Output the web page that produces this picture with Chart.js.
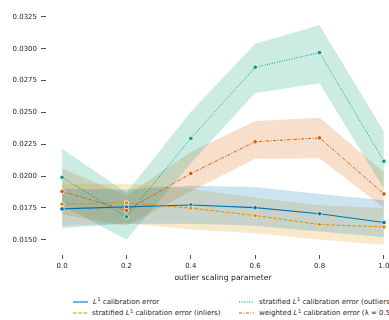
<!DOCTYPE html>
<html>
<head>
<meta charset="utf-8">
<script src="https://cdn.jsdelivr.net/npm/chart.js@4"></script>
<style>
  html, body { margin: 0; padding: 0; background: #fff; overflow: hidden; }
  #wrap { position: relative; width: 389px; height: 320px; overflow: hidden; }
  #c { position: absolute; left: 0; top: 0; }
  .lg { position: absolute; height: 10px; white-space: nowrap; font-family: "DejaVu Sans", sans-serif; font-size: 7px; color: #262626; }
  .lg svg { position: absolute; left: 0; top: 2px; }
  .lg span { position: absolute; top: 0; line-height: 10px; }
  .lg i { font-style: italic; }
  .lg sup { font-size: 5px; vertical-align: 0; position: relative; top: -2.5px; margin-left: 0.5px; }
</style>
</head>
<body>
<div id="wrap">
  <canvas id="c" width="410" height="290"></canvas>
</div>
<script>
// x positions (outlier scaling parameter) and axis ticks
const xValues = [0.0, 0.2, 0.4, 0.6, 0.8, 1.0];
const yTicks = [0.0150, 0.0175, 0.0200, 0.0225, 0.0250, 0.0275, 0.0300, 0.0325];

// L1 calibration error: mean and confidence band
const l1Mean = [0.01742, 0.01758, 0.01773, 0.01752, 0.01704, 0.01635];
const l1Low  = [0.01592, 0.01625, 0.01625, 0.01610, 0.01565, 0.01520];
const l1High = [0.01900, 0.01895, 0.01925, 0.01915, 0.01860, 0.01810];

// stratified L1 calibration error (inliers)
const inlMean = [0.01780, 0.01790, 0.01748, 0.01690, 0.01620, 0.01600];
const inlLow  = [0.01610, 0.01630, 0.01580, 0.01550, 0.01500, 0.01460];
const inlHigh = [0.01935, 0.01940, 0.01900, 0.01830, 0.01770, 0.01750];

// stratified L1 calibration error (outliers)
const outMean = [0.01990, 0.01680, 0.02296, 0.02855, 0.02970, 0.02117];
const outLow  = [0.01770, 0.01500, 0.02100, 0.02653, 0.02730, 0.01900];
const outHigh = [0.02214, 0.01870, 0.02505, 0.03039, 0.03185, 0.02350];

// weighted L1 calibration error (lambda = 0.5)
const wMean = [0.01880, 0.01730, 0.02020, 0.02270, 0.02300, 0.01860];
const wLow  = [0.01700, 0.01610, 0.01880, 0.02137, 0.02140, 0.01750];
const wHigh = [0.02060, 0.01850, 0.02190, 0.02433, 0.02458, 0.02030];

const seriesLabels = [
  'L¹ calibration error',
  'stratified L¹ calibration error (inliers)',
  'stratified L¹ calibration error (outliers)',
  'weighted L¹ calibration error (λ = 0.5)'
];

const series = [
  { label: seriesLabels[0], mean: l1Mean,  low: l1Low,  high: l1High,  rgb: [1, 115, 178],  dash: [],           width: 1.1, order: 4 },
  { label: seriesLabels[1], mean: inlMean, low: inlLow, high: inlHigh, rgb: [222, 143, 5],  dash: [3.7, 1.6],   width: 1.0, order: 3 },
  { label: seriesLabels[2], mean: outMean, low: outLow, high: outHigh, rgb: [2, 158, 115],  dash: [1, 1.5],     width: 1.0, order: 2 },
  { label: seriesLabels[3], mean: wMean,   low: wLow,   high: wHigh,   rgb: [213, 94, 0],   dash: [3, 1.5, 1, 1.5], width: 1.0, order: 1 }
];

const pts = arr => arr.map((v, i) => ({ x: xValues[i], y: v }));
const rgba = (c, a) => `rgba(${c[0]},${c[1]},${c[2]},${a})`;

const datasets = [];
series.forEach(s => {
  datasets.push({
    label: s.label + ' upper', data: pts(s.high), fill: '+1',
    backgroundColor: rgba(s.rgb, 0.2), borderWidth: 0, pointRadius: 0, order: 20
  });
  datasets.push({
    label: s.label + ' lower', data: pts(s.low), fill: false,
    borderWidth: 0, pointRadius: 0, order: 20
  });
});
series.forEach(s => {
  datasets.push({
    label: s.label, data: pts(s.mean), fill: false,
    borderColor: rgba(s.rgb, 1), borderWidth: s.width, borderDash: s.dash,
    pointRadius: 2.2, pointBackgroundColor: rgba(s.rgb, 1),
    pointBorderColor: '#ffffff', pointBorderWidth: 0.7, order: s.order
  });
});

const tickFont = { family: 'DejaVu Sans', size: 7 };
const titleFont = { family: 'DejaVu Sans', size: 7.7 };
const ink = '#262626';

new Chart(document.getElementById('c'), {
  type: 'line',
  data: { datasets },
  options: {
    responsive: false,
    animation: false,
    devicePixelRatio: 1,
    layout: { padding: { top: 2, right: 10, bottom: 0, left: 0 } },
    plugins: { legend: { display: false }, tooltip: { enabled: false } },
    scales: {
      x: {
        type: 'linear', min: -0.05, max: 1.05,
        afterBuildTicks: sc => { sc.ticks = xValues.map(v => ({ value: v })); },
        afterFit: sc => { sc.height = 35; },
        grid: { display: true, drawOnChartArea: false, drawTicks: true, tickLength: 4, color: ink, lineWidth: 0.8 },
        border: { display: false },
        ticks: { font: tickFont, color: ink, padding: 3, maxRotation: 0, autoSkip: false,
                 callback: v => Number(v).toFixed(1) },
        title: { display: true, text: 'outlier scaling parameter', font: titleFont, color: ink,
                 padding: { top: 0, bottom: 7.5 } }
      },
      y: {
        type: 'linear', min: 0.0138, max: 0.03319,
        afterBuildTicks: sc => { sc.ticks = yTicks.map(v => ({ value: v })); },
        afterFit: sc => { sc.width = 46; },
        grid: { display: true, drawOnChartArea: false, drawTicks: true, tickLength: 5, color: ink, lineWidth: 0.8 },
        border: { display: false },
        ticks: { font: tickFont, color: ink, padding: 4, autoSkip: false,
                 callback: v => Number(v).toFixed(4) }
      }
    }
  }
});

// legend: two columns under the axes
const legendPos = [
  { left: 73, top: 296.5, textLeft: 20 },
  { left: 73, top: 308,   textLeft: 19 },
  { left: 239, top: 296.5, textLeft: 20 },
  { left: 239, top: 308,   textLeft: 20 }
];
const wrap = document.getElementById('wrap');
series.forEach((s, i) => {
  const p = legendPos[i];
  const div = document.createElement('div');
  div.className = 'lg';
  div.style.left = p.left + 'px';
  div.style.top = p.top + 'px';
  const svgNS = 'http://www.w3.org/2000/svg';
  const svg = document.createElementNS(svgNS, 'svg');
  svg.setAttribute('width', '16'); svg.setAttribute('height', '6');
  const ln = document.createElementNS(svgNS, 'line');
  ln.setAttribute('x1', '0'); ln.setAttribute('x2', '15');
  ln.setAttribute('y1', '3'); ln.setAttribute('y2', '3');
  ln.setAttribute('stroke', rgba(s.rgb, 1));
  ln.setAttribute('stroke-width', s.width);
  if (s.dash.length) ln.setAttribute('stroke-dasharray', s.dash.join(' '));
  svg.appendChild(ln);
  div.appendChild(svg);
  const span = document.createElement('span');
  span.style.left = p.textLeft + 'px';
  const parts = s.label.split('L¹');
  span.appendChild(document.createTextNode(parts[0]));
  const it = document.createElement('i'); it.textContent = 'L'; span.appendChild(it);
  const sup = document.createElement('sup'); sup.textContent = '1'; span.appendChild(sup);
  span.appendChild(document.createTextNode(parts[1]));
  div.appendChild(span);
  wrap.appendChild(div);
});
</script>
</body>
</html>
